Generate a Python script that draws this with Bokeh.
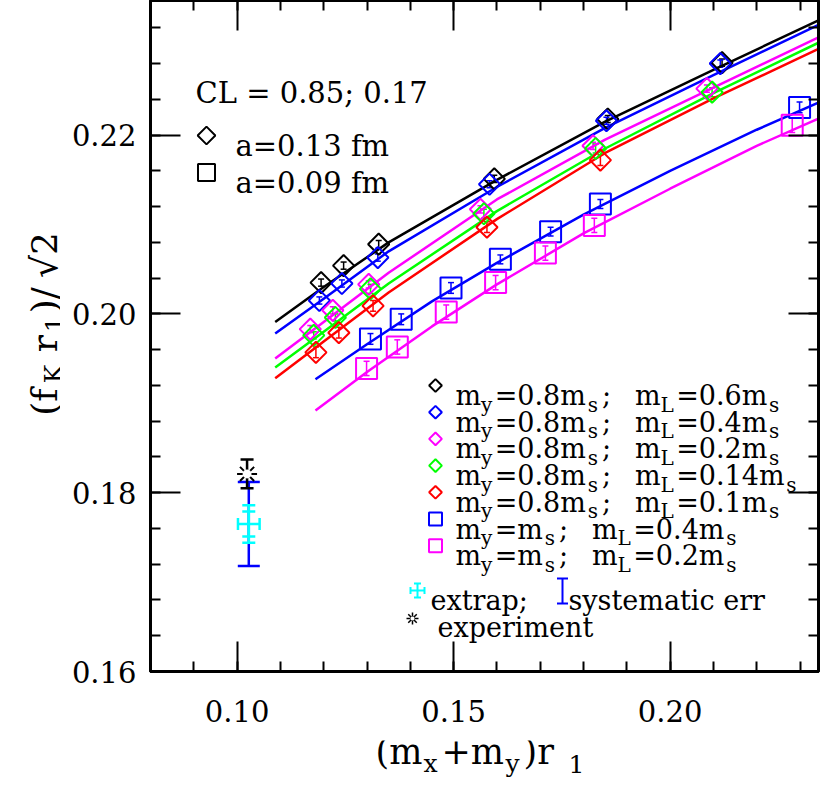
import numpy as np
from bokeh.plotting import figure
from bokeh.layouts import column, row
from bokeh.models import (Range1d, LinearAxis, FixedTicker, Label, Whisker,
                          ColumnDataSource, TeeHead, CustomJSTickFormatter)
from bokeh.core.properties import value
from bokeh.embed import file_html
from bokeh.resources import INLINE

# ---------------- data ----------------
x_ticks = [0.10, 0.15, 0.20]
x_tick_labels = ["0.10", "0.15", "0.20"]
y_ticks = [0.16, 0.18, 0.20, 0.22]
y_tick_labels = ["0.16", "0.18", "0.20", "0.22"]

# a = 0.13 fm (diamonds), m_y = 0.8 m_s
d_black_x = [0.1194, 0.1246, 0.1327, 0.1594, 0.1856, 0.2120]
d_black_y = [0.2035, 0.2054, 0.2078, 0.2151, 0.2218, 0.2281]
d_black_e = [0.0004, 0.0004, 0.0004, 0.0004, 0.0004, 0.0004]

d_blue_x = [0.1190, 0.1242, 0.1325, 0.1583, 0.1853, 0.2116]
d_blue_y = [0.2015, 0.2034, 0.2063, 0.2145, 0.2216, 0.2280]
d_blue_e = [0.0004, 0.0004, 0.0004, 0.0004, 0.0004, 0.0004]

d_magenta_x = [0.1169, 0.1221, 0.1304, 0.1562, 0.1822, 0.2085]
d_magenta_y = [0.1983, 0.2004, 0.2033, 0.2117, 0.2188, 0.2252]
d_magenta_e = [0.0004, 0.0004, 0.0004, 0.0004, 0.0004, 0.0004]

d_green_x = [0.1177, 0.1227, 0.1308, 0.1570, 0.1828, 0.2097]
d_green_y = [0.1976, 0.1996, 0.2028, 0.2112, 0.2185, 0.2248]
d_green_e = [0.0004, 0.0004, 0.0005, 0.0005, 0.0005, 0.0005]

d_red_x = [0.1182, 0.1235, 0.1314, 0.1577, 0.1839]
d_red_y = [0.1957, 0.1979, 0.2009, 0.2097, 0.2172]
d_red_e = [0.0006, 0.0006, 0.0006, 0.0006, 0.0006]

# a = 0.09 fm (squares), m_y = m_s
s_blue_x = [0.1308, 0.1379, 0.1494, 0.1608, 0.1724, 0.1839, 0.2299]
s_blue_y = [0.1972, 0.1994, 0.2029, 0.2061, 0.2092, 0.2123, 0.2231]
s_blue_e = [0.0006, 0.0006, 0.0006, 0.0005, 0.0005, 0.0005, 0.0006]

s_magenta_x = [0.1299, 0.1370, 0.1483, 0.1597, 0.1712, 0.1825, 0.2282]
s_magenta_y = [0.1939, 0.1963, 0.2002, 0.2035, 0.2068, 0.2099, 0.2211]
s_magenta_e = [0.0008, 0.0008, 0.0008, 0.0008, 0.0008, 0.0008, 0.0008]

# fit curves
fit_d_x = [0.1088, 0.120, 0.135, 0.160, 0.185, 0.210, 0.235]
fit_d_black = [0.1991, 0.2030, 0.2080, 0.2150, 0.2215, 0.2273, 0.2330]
fit_d_blue = [0.1978, 0.2017, 0.2070, 0.2142, 0.2208, 0.2267, 0.2325]
fit_d_magenta = [0.1950, 0.1991, 0.2046, 0.2128, 0.2195, 0.2253, 0.2311]
fit_d_green = [0.1940, 0.1980, 0.2034, 0.2115, 0.2185, 0.2247, 0.2305]
fit_d_red = [0.1928, 0.1969, 0.2024, 0.2106, 0.2180, 0.2241, 0.2298]

fit_s_x = [0.1181, 0.130, 0.145, 0.160, 0.180, 0.200, 0.220, 0.235]
fit_s_blue = [0.1927, 0.1966, 0.2014, 0.2057, 0.2111, 0.2160, 0.2206, 0.2238]
fit_s_magenta = [0.1892, 0.1935, 0.1986, 0.2033, 0.2090, 0.2140, 0.2188, 0.2220]

# chiral extrapolation and experiment
extrap_x = [0.1027]
extrap_y = [0.1765]
extrap_xerr = [0.0025]
extrap_err_stat = [0.0014]
extrap_err_tot = [0.0021]
syst_lo = [0.1718]
syst_hi = [0.1812]
expt_x = [0.1023]
expt_y = [0.1821]
expt_err = [0.0016]

legend_my = ["0.8", "0.8", "0.8", "0.8", "0.8", "", ""]
legend_mL = ["0.6", "0.4", "0.2", "0.14", "0.1", "0.4", "0.2"]
legend_colors = ["#000000", "#0000ff", "#ff00ff", "#00ff00", "#ff0000", "#0000ff", "#ff00ff"]
legend_kind = ["d", "d", "d", "d", "d", "s", "s"]

# ---------------- layout ----------------
FONT = "DejaVu Serif"
W, H = 822, 787
YT_W = 60            # width of the strip holding the y title
MAIN_H = 740         # height of the main figure (rest holds the x title)
IMG_LEFT, IMG_RIGHT, IMG_TOP, IMG_BOTTOM = 150, 818, 0, 671
X_MIN, Y_MIN = 0.08, 0.16
PX_X, PX_Y = 4330.0, 8940.0
X_MAX = X_MIN + (IMG_RIGHT - IMG_LEFT) / PX_X
Y_MAX = Y_MIN + (IMG_BOTTOM - IMG_TOP) / PX_Y


def X(px):
    return X_MIN + (px - IMG_LEFT) / PX_X


def Y(py):
    return Y_MIN + (IMG_BOTTOM - py) / PX_Y


p = figure(width=W - YT_W, height=MAIN_H, output_backend="svg", toolbar_location=None,
           title=None,
           x_range=Range1d(X_MIN, X_MAX), y_range=Range1d(Y_MIN, Y_MAX),
           min_border_left=IMG_LEFT - YT_W, min_border_right=W - IMG_RIGHT,
           min_border_top=IMG_TOP, min_border_bottom=MAIN_H - IMG_BOTTOM,
           background_fill_color="white", border_fill_color="white")
p.xgrid.visible = False
p.ygrid.visible = False
p.outline_line_color = "black"
p.outline_line_width = 3

x_minor = list(np.round(np.arange(0.08, 0.2345, 0.01), 4))
y_minor = list(np.round(np.arange(0.16, 0.2352, 0.004), 4))

lab_code = ("const i = tk.findIndex(t => Math.abs(t - tick) < 1e-9);"
            "return i >= 0 ? lb[i] : '';")


def style_axis(ax, show):
    ax.axis_line_width = 3
    ax.axis_line_color = "black"
    ax.major_tick_in = 30
    ax.major_tick_out = 0
    ax.minor_tick_in = 10
    ax.minor_tick_out = 0
    ax.major_tick_line_width = 2
    ax.minor_tick_line_width = 2
    ax.major_label_text_font = FONT
    ax.major_label_text_font_size = "29px"
    ax.major_label_text_color = "black"
    if not show:
        ax.major_label_standoff = 0
        ax.formatter = CustomJSTickFormatter(code="return '';")


p.xaxis[0].ticker = FixedTicker(ticks=x_ticks, minor_ticks=x_minor)
p.xaxis[0].formatter = CustomJSTickFormatter(args=dict(tk=x_ticks, lb=x_tick_labels), code=lab_code)
p.yaxis[0].ticker = FixedTicker(ticks=y_ticks, minor_ticks=y_minor)
p.yaxis[0].formatter = CustomJSTickFormatter(args=dict(tk=y_ticks, lb=y_tick_labels), code=lab_code)
style_axis(p.xaxis[0], True)
style_axis(p.yaxis[0], True)
p.xaxis[0].major_label_standoff = 28
p.yaxis[0].major_label_standoff = 14

top_ax = LinearAxis(ticker=FixedTicker(ticks=x_ticks, minor_ticks=x_minor))
right_ax = LinearAxis(ticker=FixedTicker(ticks=y_ticks, minor_ticks=y_minor))
style_axis(top_ax, False)
style_axis(right_ax, False)
p.add_layout(top_ax, "above")
p.add_layout(right_ax, "right")

# ---------------- fit curves ----------------
for ys, c in [(fit_d_black, "#000000"), (fit_d_blue, "#0000ff"), (fit_d_magenta, "#ff00ff"),
              (fit_d_green, "#00ff00"), (fit_d_red, "#ff0000")]:
    p.line(fit_d_x, ys, line_color=c, line_width=2.5)
for ys, c in [(fit_s_blue, "#0000ff"), (fit_s_magenta, "#ff00ff")]:
    p.line(fit_s_x, ys, line_color=c, line_width=2.5)


def errbars(xs, ys, es, c, w=1.5, head=6, dim="height"):
    lo = [y - e for y, e in zip(ys, es)]
    hi = [y + e for y, e in zip(ys, es)]
    if dim == "height":
        src = ColumnDataSource(dict(b=xs, lo=lo, hi=hi))
    else:
        src = ColumnDataSource(dict(b=ys, lo=[x - e for x, e in zip(xs, es)],
                                    hi=[x + e for x, e in zip(xs, es)]))
    p.add_layout(Whisker(source=src, base="b", lower="lo", upper="hi", dimension=dim,
                         line_color=c, line_width=w,
                         upper_head=TeeHead(size=head, line_color=c, line_width=w),
                         lower_head=TeeHead(size=head, line_color=c, line_width=w)))


# ---------------- data points ----------------
for xs, ys, es, c in [(d_black_x, d_black_y, d_black_e, "#000000"),
                      (d_blue_x, d_blue_y, d_blue_e, "#0000ff"),
                      (d_magenta_x, d_magenta_y, d_magenta_e, "#ff00ff"),
                      (d_green_x, d_green_y, d_green_e, "#00ff00"),
                      (d_red_x, d_red_y, d_red_e, "#ff0000")]:
    p.scatter(xs, ys, marker="square", angle=np.pi / 4, size=15, fill_color=None,
              line_color=c, line_width=2)
    errbars(xs, ys, es, c)

for xs, ys, es, c in [(s_blue_x, s_blue_y, s_blue_e, "#0000ff"),
                      (s_magenta_x, s_magenta_y, s_magenta_e, "#ff00ff")]:
    p.scatter(xs, ys, marker="square", size=21, fill_color=None, line_color=c, line_width=2)
    errbars(xs, ys, es, c)

# extrapolated point with systematic error, and experiment
p.add_layout(Whisker(source=ColumnDataSource(dict(b=extrap_x, lo=syst_lo, hi=syst_hi)),
                     base="b", lower="lo", upper="hi", dimension="height",
                     line_color="#0000ff", line_width=2.5,
                     upper_head=TeeHead(size=22, line_color="#0000ff", line_width=2.5),
                     lower_head=TeeHead(size=22, line_color="#0000ff", line_width=2.5)))
errbars(extrap_x, extrap_y, extrap_err_tot, "#00ffff", w=2.5, head=13)
errbars(extrap_x, extrap_y, extrap_err_stat, "#00ffff", w=2.5, head=13)
errbars(extrap_x, extrap_y, extrap_xerr, "#00ffff", w=2.5, head=12, dim="width")

p.scatter(expt_x, expt_y, marker="asterisk", size=20, line_color="black", line_width=2)
p.scatter(expt_x, expt_y, marker="circle", size=9, fill_color="white", line_color=None)
errbars(expt_x, expt_y, expt_err, "black", w=2.5, head=13)

# ---------------- text helpers ----------------
EM = {' ': 0.318, '(': 0.39, ')': 0.39, '+': 0.838, '=': 0.838, '.': 0.318, ';': 0.337,
      '/': 0.337, '√': 0.838, 'm': 0.94, 'y': 0.592, 's': 0.514, 'L': 0.638, 'K': 0.768,
      'f': 0.369, 'r': 0.48, 'x': 0.592}
for d in "0123456789":
    EM[d] = 0.636


def adv(text, fs):
    return sum(EM.get(ch, 0.6) * fs for ch in text)


def label(px, py, text, fs=28, color="black"):
    p.add_layout(Label(x=X(px), y=Y(py), text=text, text_font=FONT,
                       text_font_size=f"{fs}px", text_color=color,
                       text_baseline="alphabetic", text_align="left"))


def rich(x0, y0, runs, fs=27, sfs=20, drop=9):
    s = 0.0
    for item in runs:
        text, sub = item[0], item[1]
        s += item[2] if len(item) > 2 else 0.0
        size = sfs if sub else fs
        if text.strip():
            label(x0 + s, y0 + (drop if sub else 0.0), text, fs=size)
        s += adv(text, size)


def placed(fig, runs, base, fs, sfs, drop, vertical=False):
    # runs: (text, is_subscript, start position along the reading direction)
    for text, sub, pos in runs:
        size = sfs if sub else fs
        d = drop if sub else 0.0
        if vertical:
            ix, iy = base + d, pos
        else:
            ix, iy = pos, base + d
        fig.text(x=[ix], y=[iy], text=[text], text_font=value(FONT),
                 text_font_size=value(f"{size}px"), text_color="black",
                 text_baseline="alphabetic", text_align="left",
                 angle=(np.pi / 2 if vertical else 0.0))


# top-left legend
label(195, 92, "CL = 0.85; 0.17", fs=29)
p.scatter([X(206)], [Y(135)], marker="square", angle=np.pi / 4, size=12.5,
          fill_color=None, line_color="black", line_width=2)
label(235, 145, "a=0.13 fm", fs=29)
p.scatter([X(206)], [Y(172)], marker="square", size=17,
          fill_color=None, line_color="black", line_width=2)
label(235, 182, "a=0.09 fm", fs=29)

# right legend
for i, (my, mL, c, kind) in enumerate(zip(legend_my, legend_mL, legend_colors, legend_kind)):
    base = 395 + 26.7 * i
    if kind == "d":
        p.scatter([X(435)], [Y(base - 10)], marker="square", angle=np.pi / 4, size=9,
                  fill_color=None, line_color=c, line_width=2)
    else:
        p.scatter([X(435)], [Y(base - 10)], marker="square", size=13,
                  fill_color=None, line_color=c, line_width=2)
    runs = [("m", 0), ("y", 1), ("=" + my + "m", 0, 2), ("s", 1, 2), (";", 0, 4),
            ("m", 0, 24), ("L", 1), ("=" + mL + "m", 0, 3), ("s", 1, 2)]
    rich(455, base, runs)

# extrap / systematic / experiment legend
p.scatter([X(417)], [Y(590)], marker="cross", size=14, line_color="#00ffff", line_width=2)
p.scatter([X(417), X(417)], [Y(583), Y(597)], marker="dash", size=7,
          line_color="#00ffff", line_width=2)
p.scatter([X(410), X(424)], [Y(590), Y(590)], marker="dash", angle=np.pi / 2, size=7,
          line_color="#00ffff", line_width=2)
label(430, 600, "extrap;", fs=27)
p.segment([X(562)], [Y(578)], [X(562)], [Y(603)], line_color="#0000ff", line_width=2)
p.scatter([X(562), X(562)], [Y(578), Y(603)], marker="dash", size=11,
          line_color="#0000ff", line_width=2)
label(568, 600, "systematic err", fs=27)
p.scatter([X(412)], [Y(618)], marker="asterisk", size=12, line_color="black", line_width=1.5)
p.scatter([X(412)], [Y(618)], marker="circle", size=4, fill_color="white", line_color=None)
label(437, 627, "experiment", fs=27)


# ---------------- axis-title strips ----------------
def strip(width, height, xr, yr):
    f = figure(width=width, height=height, output_backend="svg", toolbar_location=None,
               title=None, x_range=Range1d(*xr), y_range=Range1d(*yr),
               min_border=0, background_fill_color="white", border_fill_color="white")
    f.axis.visible = False
    f.grid.visible = False
    f.outline_line_color = None
    return f


ytitle = strip(YT_W, MAIN_H, (0, YT_W), (MAIN_H, 0))
xtitle = strip(W, H - MAIN_H, (0, W), (H, MAIN_H))

placed(xtitle, [("(m", 0, 375), ("x", 1, 423), ("+m", 0, 441), ("y", 1, 505),
                (")r", 0, 523), ("1", 1, 568)], base=751, fs=35, sfs=25, drop=12)
placed(ytitle, [("(f", 0, 458), ("K", 1, 422), ("r", 0, 388), ("1", 1, 366),
                (")/", 0, 345), ("√2", 0, 306)], base=44, fs=36, sfs=25, drop=9,
       vertical=True)

layout = column(row(ytitle, p, spacing=0), xtitle, spacing=0)
open("out.html", "w").write(file_html(layout, INLINE))
